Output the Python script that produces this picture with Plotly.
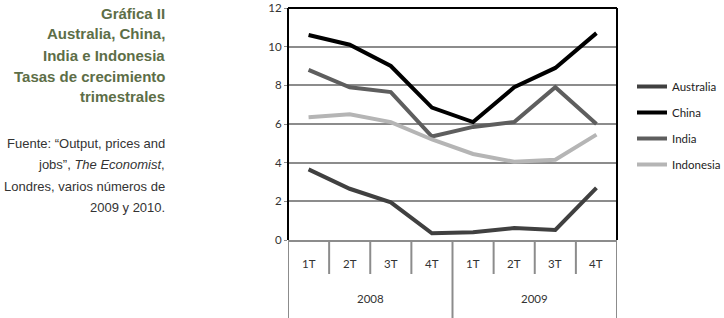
import plotly.graph_objects as go

quarters = ["1T", "2T", "3T", "4T", "1T", "2T", "3T", "4T"]
years = ["2008", "2009"]
australia = [3.65, 2.65, 1.95, 0.35, 0.4, 0.62, 0.52, 2.7]
china = [10.6, 10.1, 9.0, 6.85, 6.1, 7.9, 8.9, 10.7]
india = [8.8, 7.9, 7.65, 5.35, 5.85, 6.1, 7.9, 6.0]
indonesia = [6.35, 6.5, 6.1, 5.2, 4.45, 4.05, 4.15, 5.45]

series = [
    ("Australia", australia, "#404040"),
    ("China", china, "#000000"),
    ("India", india, "#5e5e5e"),
    ("Indonesia", indonesia, "#b5b5b5"),
]

xs = list(range(len(quarters)))
fig = go.Figure()
for i, (name, vals, col) in enumerate(series):
    fig.add_trace(go.Scatter(x=xs, y=vals, mode="lines", name=name,
                             legendgroup=str(i),
                             line=dict(color=col, width=4)))

W, H = 724, 318
L, R, T, B = 288, 724 - 617, 8, 318 - 240
ph = H - T - B
pw = W - L - R

def py(page_y):
    return (H - B - page_y) / ph

def px(page_x):
    return (page_x - L) / pw

CHART_FONT = "Lato"

fig.update_layout(
    width=W, height=H,
    margin=dict(l=L, r=R, t=T, b=B, autoexpand=False),
    paper_bgcolor="white", plot_bgcolor="white",
    font=dict(family=CHART_FONT, size=11.5, color="#333333"),
    showlegend=True,
    legend=dict(x=px(632), y=py(125.5), xanchor="left", yanchor="middle",
                font=dict(family=CHART_FONT, size=11.5, color="#222222"),
                tracegroupgap=7, itemwidth=30, bgcolor="rgba(0,0,0,0)"),
    xaxis=dict(range=[-0.5, len(quarters) - 0.5], showticklabels=False,
               showgrid=False, zeroline=False, showline=True, automargin=False,
               linecolor="#8c8c8c", linewidth=2, ticks=""),
    yaxis=dict(range=[0, 12], dtick=2, showgrid=True, gridcolor="#8c8c8c",
               gridwidth=2, zeroline=False, showline=False, ticks="outside",
               ticklen=3, tickcolor="#8c8c8c", automargin=False,
               tickfont=dict(family=CHART_FONT, size=11.5, color="#333333")),
)

# plot border (left/top/right in black)
for x0, x1, y0, y1 in [(0, 0, 0, 1), (0, 1, 1, 1), (1, 1, 0, 1)]:
    fig.add_shape(type="line", xref="paper", yref="paper", x0=x0, x1=x1, y0=y0, y1=y1,
                  line=dict(color="#000000", width=2))

# category separators below the axis
qbot = py(274)
ybot = py(320)
for i in range(1, len(quarters)):
    if i == 4:
        continue
    fig.add_shape(type="line", xref="x", yref="paper", x0=i - 0.5, x1=i - 0.5,
                  y0=0, y1=qbot, line=dict(color="#8c8c8c", width=2))
for xv in [-0.5, 3.5, len(quarters) - 0.5]:
    fig.add_shape(type="line", xref="x", yref="paper", x0=xv, x1=xv,
                  y0=0, y1=ybot, line=dict(color="#8c8c8c", width=2))

for i, q in enumerate(quarters):
    fig.add_annotation(x=i, y=py(263), xref="x", yref="paper", text=q, yanchor="middle",
                       showarrow=False, font=dict(family=CHART_FONT, size=11.5, color="#333333"))
for j, yr in enumerate(years):
    fig.add_annotation(x=1.5 + 4 * j, y=py(298), xref="x", yref="paper", text=yr,
                       yanchor="middle", showarrow=False,
                       font=dict(family=CHART_FONT, size=11.5, color="#333333"))

# left text block
xr = px(167)
title_lines = [("Gráfica II", 13), ("Australia, China,", 34), ("India e Indonesia", 55),
               ("Tasas de crecimiento", 76), ("trimestrales", 97)]
for txt, yc in title_lines:
    fig.add_annotation(x=xr, y=py(yc), xref="paper", yref="paper",
                       xanchor="right", yanchor="middle", text="<b>" + txt + "</b>",
                       showarrow=False,
                       font=dict(family="Liberation Sans", size=15, color="#5d6e47"))
src_lines = [("Fuente: “Output, prices and", 143),
             ("jobs”, <i>The Economist</i>,", 164),
             ("Londres, varios números de", 186),
             ("2009 y 2010.", 207)]
for txt, yc in src_lines:
    fig.add_annotation(x=xr, y=py(yc), xref="paper", yref="paper",
                       xanchor="right", yanchor="middle", text=txt, showarrow=False,
                       font=dict(family="Liberation Sans", size=13, color="#333333"))

# the page body has a default 8px margin; remove it so the figure fills the window
fig.write_html("out.html", config={"displayModeBar": False},
               post_script="document.body.style.margin='0';document.body.style.padding='0';")
